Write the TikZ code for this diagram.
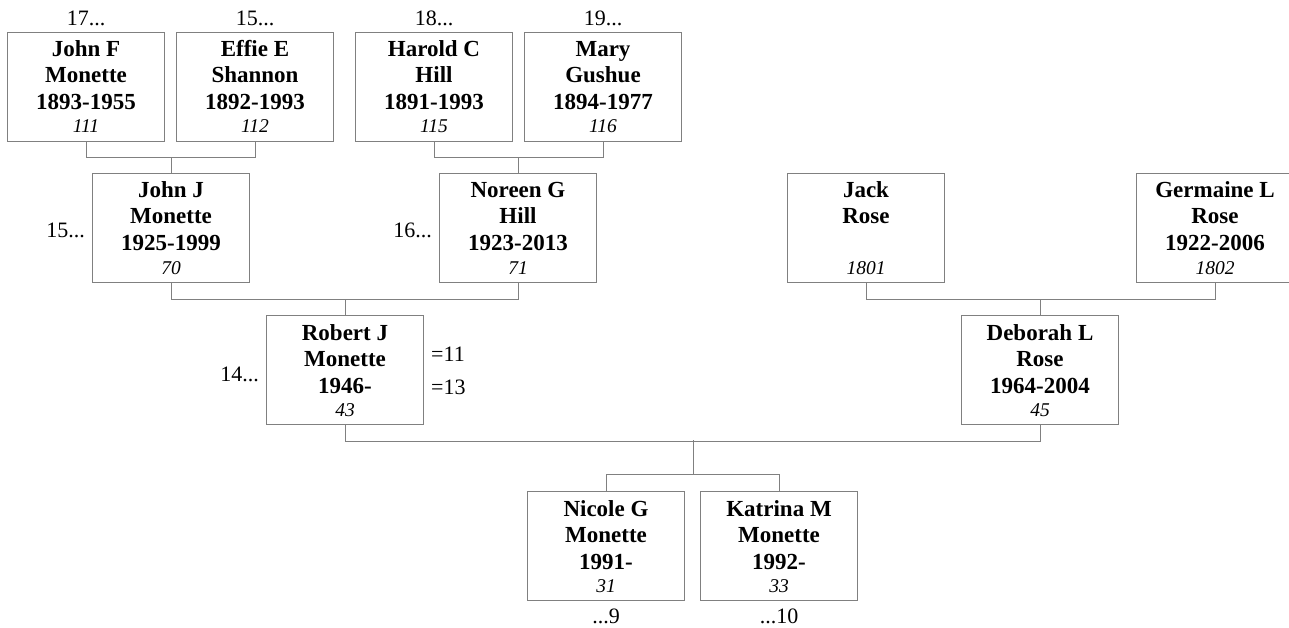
\documentclass[tikz,border=0pt]{standalone}
\usepackage{fontspec}
\setmainfont{Liberation Serif}
\usetikzlibrary{calc}
\definecolor{edge}{RGB}{128,128,128}
\tikzset{
  x=1pt, y=-1pt,
  box/.style={draw=edge, line width=1pt, minimum width=157pt, minimum height=109pt, anchor=north west, inner sep=0pt},
  nm/.style={font=\fontsize{23}{27}\selectfont\bfseries, anchor=base, inner sep=0pt},
  num/.style={font=\fontsize{19.5}{23}\selectfont\itshape, anchor=base, inner sep=0pt},
  lab/.style={font=\fontsize{22}{26}\selectfont, inner sep=0pt},
  link/.style={draw=edge, line width=1pt},
}
\newcommand{\person}[7]{%
  \node[box] (#1) at (#2,#3) {};
  \node[nm] (#1-a) at ($(#1.north)+(0,25)$) {#4};
  \node[nm] (#1-b) at ($(#1.north)+(0,51)$) {#5};
  \node[nm] (#1-c) at ($(#1.north)+(0,78)$) {#6};
  \node[num] (#1-d) at ($(#1.north)+(0,101)$) {#7};
}
\begin{document}
\begin{tikzpicture}
\useasboundingbox (0,0) rectangle (1289,628);
\clip (0,0) rectangle (1289,628);
% generation 1
\person{jf}{7}{32}{John F}{Monette}{1893-1955}{111}
\person{ee}{176}{32}{Effie E}{Shannon}{1892-1993}{112}
\person{hc}{355}{32}{Harold C}{Hill}{1891-1993}{115}
\person{mg}{524}{32}{Mary}{Gushue}{1894-1977}{116}
% generation 2
\person{jj}{92}{173}{John J}{Monette}{1925-1999}{70}
\person{ng}{439}{173}{Noreen G}{Hill}{1923-2013}{71}
\person{jr}{787}{173}{Jack}{Rose}{}{1801}
\person{gl}{1136}{173}{Germaine L}{Rose}{1922-2006}{1802}
% generation 3
\person{rj}{266}{315}{Robert J}{Monette}{1946-}{43}
\person{dl}{961}{315}{Deborah L}{Rose}{1964-2004}{45}
% generation 4
\person{nm}{527}{491}{Nicole G}{Monette}{1991-}{31}
\person{km}{700}{491}{Katrina M}{Monette}{1992-}{33}
% outer labels
\node[lab, anchor=base] (l17) at ($(jf.north)+(0,-6)$) {17...};
\node[lab, anchor=base] (l15a) at ($(ee.north)+(0,-6)$) {15...};
\node[lab, anchor=base] (l18) at ($(hc.north)+(0,-6)$) {18...};
\node[lab, anchor=base] (l19) at ($(mg.north)+(0,-6)$) {19...};
\node[lab, anchor=base east] (l15b) at (85,238) {15...};
\node[lab, anchor=base east] (l16) at (432,238) {16...};
\node[lab, anchor=base east] (l14) at (259,381) {14...};
\node[lab, anchor=base west] (e11) at (431,361) {=11};
\node[lab, anchor=base west] (e13) at (431,394) {=13};
\node[lab, anchor=base] (d9) at ($(nm.south)+(0,22)$) {...9};
\node[lab, anchor=base] (d10) at ($(km.south)+(0,22)$) {...10};
% connectors
\draw[link] (jf.south) -- ++(0,16) -| (ee.south);
\draw[link] (jj.north) -- ++(0,-16);
\draw[link] (hc.south) -- ++(0,16) -| (mg.south);
\draw[link] (ng.north) -- ++(0,-16);
\draw[link] (jj.south) -- ++(0,16) -| (ng.south);
\draw[link] (rj.north) -- ++(0,-16);
\draw[link] (jr.south) -- ++(0,16) -| (gl.south);
\draw[link] (dl.north) -- ++(0,-16);
\draw[link] (rj.south) -- ++(0,16) coordinate (rjb) -| (dl.south);
\coordinate (mid) at (693,440);
\coordinate (kid) at (693,474);
\draw[link] (mid) -- (kid);
\draw[link] (nm.north) -- ++(0,-17) -| (km.north);
\end{tikzpicture}
\end{document}
